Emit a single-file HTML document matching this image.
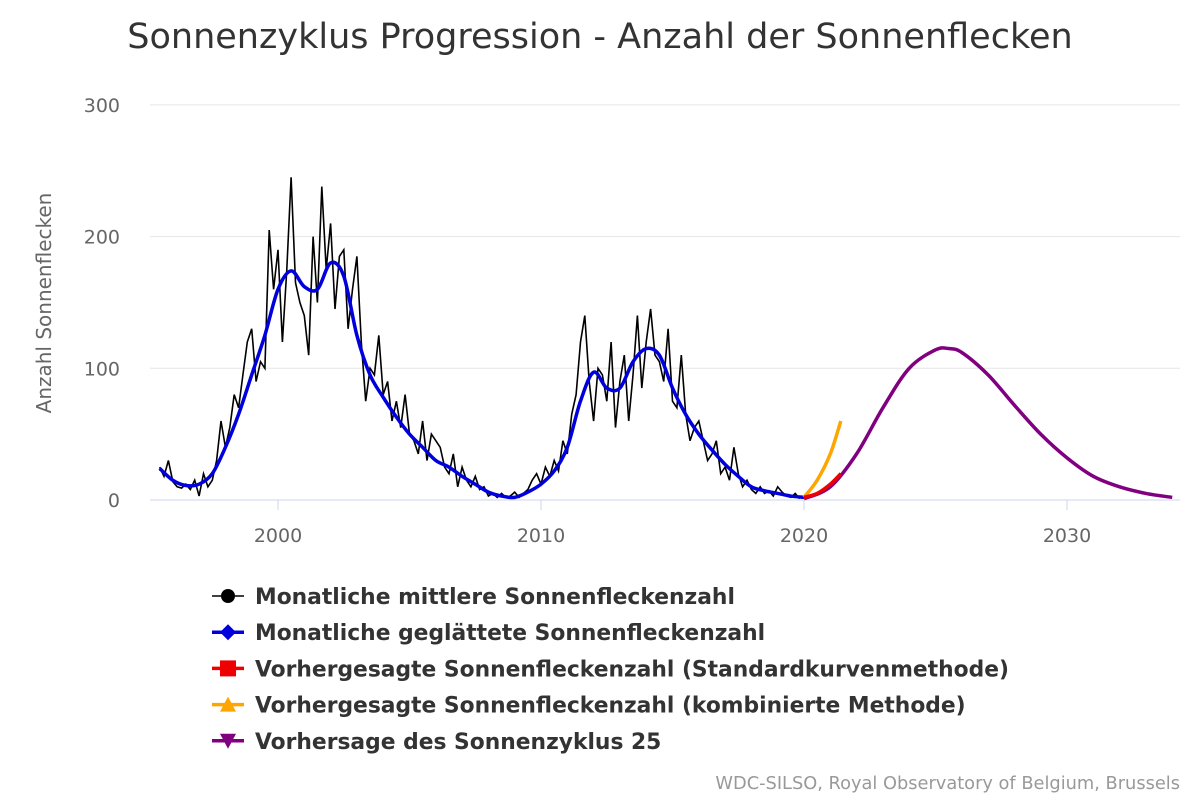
<!DOCTYPE html>
<html><head><meta charset="utf-8"><style>
body{margin:0;background:#fff;}
svg{display:block;font-family:"DejaVu Sans","Liberation Sans",sans-serif;}
</style></head><body>
<svg id="chart" width="1200" height="800" viewBox="0 0 1200 800">
<text x="600" y="48" text-anchor="middle" font-size="35" fill="#333">Sonnenzyklus Progression - Anzahl der Sonnenflecken</text>
<g id="grid"></g>
<g id="yticks"></g>
<g id="xticks"></g>
<text transform="translate(51,303) rotate(-90)" text-anchor="middle" font-size="20" fill="#666">Anzahl Sonnenflecken</text>
<g id="series"></g>
<g id="legend"></g>
<text x="1180" y="789" text-anchor="end" font-size="17.8" fill="#999">WDC-SILSO, Royal Observatory of Belgium, Brussels</text>
</svg>
<script>
const yTicks=[0,100,200,300];
const xTicks=[2000,2010,2020,2030];
const monthlyStart=1995.5, monthlyStep=1/6;
const monthly=[25,18,30,14,10,9, 12,8,15,3,20,10, 15,30,60,40,55,80, 70,95,120,130,90,105,
100,205,160,190,120,175, 245,165,150,140,110,200, 150,238,175,210,145,185, 190,130,160,185,120,75,
100,95,125,80,90,60, 75,55,80,50,45,35, 60,30,50,45,40,25, 20,35,10,25,15,10,
18,8,10,3,5,2, 5,2,3,6,2,5, 8,15,20,12,25,18, 30,22,45,35,65,80,
120,140,90,60,100,95, 75,120,55,90,110,60, 95,140,85,120,145,110, 105,90,130,75,70,110,
65,45,55,60,45,30, 35,45,20,25,15,40, 20,10,15,8,5,10, 5,7,3,10,6,3, 2,5,1];
const smoothStart=1995.5, smoothStep=0.5;
const smoothed=[24,15,11,12,20,40,65,95,125,160,174,162,160,180,170,125,95,78,63,50,40,30,25,18,12,6,3,2,6,12,22,40,75,97,85,85,105,115,110,85,65,50,38,27,18,10,7,5,3,2];
const cycle25Years=[2020,2021,2022,2023,2024,2025,2025.5,2026,2027,2028,2029,2030,2031,2032,2033,2034];
const cycle25=[1,10,35,70,100,114,115,112,95,72,50,32,18,10,5,2];
const combYears=[2020,2020.5,2021,2021.4];
const combined=[2,15,35,60];
const stdYears=[2020,2020.5,2021,2021.4];
const standard=[2,5,12,20];

const X=y=>278+(y-2000)*26.3;
const Y=v=>500-v*1.317;
const NS='http://www.w3.org/2000/svg';
function mk(tag,attrs,parent){const e=document.createElementNS(NS,tag);for(const k in attrs)e.setAttribute(k,attrs[k]);parent.appendChild(e);return e;}
const grid=document.getElementById('grid'),yt=document.getElementById('yticks'),xt=document.getElementById('xticks'),ser=document.getElementById('series'),lg=document.getElementById('legend');
yTicks.forEach(v=>{
 const l=mk('line',{x1:150,x2:1180,y1:Y(v),y2:Y(v),stroke:v===0?'#ccd6eb':'#e6e6e6','stroke-width':1},grid);
 
 
 const t=mk('text',{x:120,y:Y(v)+7,'text-anchor':'end','font-size':19,fill:'#666'},yt);t.textContent=v;
 
 
});
xTicks.forEach(v=>{
 const l=mk('line',{x1:X(v),x2:X(v),y1:500,y2:510,stroke:'#ccd6eb'},xt);
 
 
 const t=mk('text',{x:X(v),y:542,'text-anchor':'middle','font-size':19,fill:'#666'},xt);t.textContent=v;
 
 
});
function poly(pts){return pts.map((p,i)=>(i?'L':'M')+p[0].toFixed(1)+','+p[1].toFixed(1)).join('');}
function smooth(pts){let d='M'+pts[0][0]+','+pts[0][1];for(let i=0;i<pts.length-1;i++){const p0=pts[i-1]||pts[i],p1=pts[i],p2=pts[i+1],p3=pts[i+2]||p2;
 d+=`C${p1[0]+(p2[0]-p0[0])/6},${p1[1]+(p2[1]-p0[1])/6} ${p2[0]-(p3[0]-p1[0])/6},${p2[1]-(p3[1]-p1[1])/6} ${p2[0]},${p2[1]}`;}return d;}
const mPts=monthly.map((v,i)=>[X(monthlyStart+i*monthlyStep),Y(v)]);
const sPts=smoothed.map((v,i)=>[X(smoothStart+i*smoothStep),Y(v)]);
const p1=mk('path',{d:poly(mPts),fill:'none',stroke:'#000','stroke-width':1.6},ser);


const p2=mk('path',{d:smooth(sPts),fill:'none',stroke:'#0000dd','stroke-width':3.5},ser);


const p3=mk('path',{d:smooth(combYears.map((y,i)=>[X(y),Y(combined[i])])),fill:'none',stroke:'#ffa500','stroke-width':3.5},ser);


const p4=mk('path',{d:smooth(cycle25Years.map((y,i)=>[X(y),Y(cycle25[i])])),fill:'none',stroke:'#800080','stroke-width':3.5},ser);


const p5=mk('path',{d:smooth(stdYears.map((y,i)=>[X(y),Y(standard[i])])),fill:'none',stroke:'#ee0000','stroke-width':3.5},ser);


const legendItems=[['Monatliche mittlere Sonnenfleckenzahl','#000','circle',1.6],['Monatliche geglättete Sonnenfleckenzahl','#0000dd','diamond',3.5],['Vorhergesagte Sonnenfleckenzahl (Standardkurvenmethode)','#ee0000','square',3.5],['Vorhergesagte Sonnenfleckenzahl (kombinierte Methode)','#ffa500','triangle',3.5],['Vorhersage des Sonnenzyklus 25','#800080','triangle-down',3.5]];
legendItems.forEach((it,i)=>{
 const y=596+i*36.2;
 const g=mk('g',{},lg);
 
 
 mk('line',{x1:212,x2:244,y1:y,y2:y,stroke:it[1],'stroke-width':it[3]},g);
 const c=228,s=it[2];
 if(s==='circle')mk('circle',{cx:c,cy:y,r:7,fill:it[1]},g);
 else if(s==='diamond')mk('path',{d:`M${c},${y-8}L${c+8},${y}L${c},${y+8}L${c-8},${y}Z`,fill:it[1]},g);
 else if(s==='square')mk('rect',{x:c-8,y:y-8,width:16,height:16,fill:it[1]},g);
 else if(s==='triangle')mk('path',{d:`M${c},${y-8}L${c+8},${y+7}L${c-8},${y+7}Z`,fill:it[1]},g);
 else mk('path',{d:`M${c-8},${y-7}L${c+8},${y-7}L${c},${y+8}Z`,fill:it[1]},g);
 const t=mk('text',{x:255,y:y+8,'font-size':21.8,'font-weight':'bold',fill:'#333'},g);t.textContent=it[0];
});
</script>
</body></html>
